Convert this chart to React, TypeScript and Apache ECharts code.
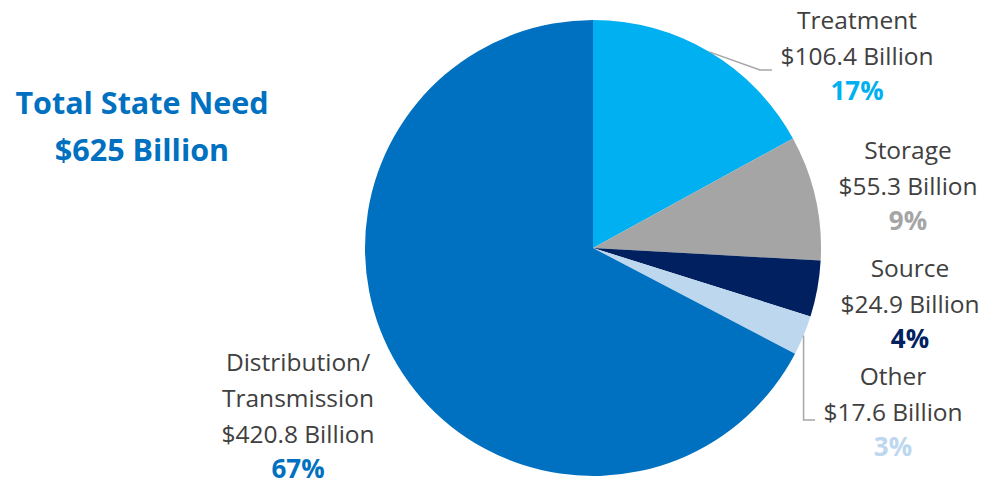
import React, { useEffect, useRef } from "react";
import * as echarts from "echarts";

// Need by category, in billions of dollars (clockwise from 12 o'clock)
const categories = ["Treatment", "Storage", "Source", "Other", "Distribution/\nTransmission"];
const valuesBillion = [106.4, 55.3, 24.9, 17.6, 420.8];
const sliceColors = ["#00B0F0", "#A5A5A5", "#002060", "#BDD7EE", "#0070C0"];
const titleLines = ["Total State Need", "$625 Billion"];

// Label anchors (top-centre of each label block)
const labelAnchors = [
  [857, 1],
  [908, 131],
  [910, 249],
  [893, 357],
  [298, 343],
];

const CENTER: [number, number] = [593, 248];
const RADIUS = 228;
const FONT = "'Open Sans', Lato, sans-serif";

function edgePoint(index: number): [number, number] {
  const total = valuesBillion.reduce((a, b) => a + b, 0);
  const before = valuesBillion.slice(0, index).reduce((a, b) => a + b, 0);
  const mid = ((before + valuesBillion[index] / 2) / total) * Math.PI * 2;
  return [CENTER[0] + RADIUS * Math.sin(mid), CENTER[1] - RADIUS * Math.cos(mid)];
}

export default function App() {
  const ref = useRef<HTMLDivElement>(null);

  useEffect(() => {
    document.body.style.margin = "0";
    if (!ref.current) return;
    const chart = echarts.init(ref.current, undefined, { renderer: "svg" });

    const rich: Record<string, any> = {
      t: { fontFamily: FONT, fontSize: 24.5, color: "#404040", lineHeight: 36 },
    };
    sliceColors.forEach((c, i) => {
      rich["p" + i] = {
        fontFamily: FONT,
        fontSize: 26,
        fontWeight: "bold",
        color: c,
        lineHeight: 34,
      };
    });

    const pTreat = edgePoint(0);
    const pOther = edgePoint(3);

    chart.setOption({
      animation: false,
      backgroundColor: "#ffffff",
      title: {
        text: titleLines.join("\n"),
        left: 137,
        top: 73,
        textAlign: "center",
        textStyle: {
          fontFamily: FONT,
          fontSize: 30.5,
          fontWeight: "bold",
          color: "#0070C0",
          lineHeight: 47,
        },
      },
      graphic: [
        {
          type: "polyline",
          shape: { points: [pTreat, [760, 70], [772, 70]] },
          style: { stroke: "#A6A6A6", lineWidth: 1.5, fill: "none" },
          z: 10,
        },
        {
          type: "polyline",
          shape: { points: [pOther, [pOther[0], 420], [815, 420]] },
          style: { stroke: "#A6A6A6", lineWidth: 1.5, fill: "none" },
          z: 10,
        },
      ],
      series: [
        {
          type: "pie",
          center: CENTER,
          radius: RADIUS,
          startAngle: 90,
          clockwise: true,
          avoidLabelOverlap: false,
          emphasis: { disabled: true },
          itemStyle: { borderWidth: 0 },
          data: categories.map((name, i) => ({
            name,
            value: valuesBillion[i],
            itemStyle: { color: sliceColors[i] },
          })),
          label: {
            show: true,
            position: "outside",
            formatter: (p: any) =>
              `{t|${p.name}}\n{t|$${p.value.toFixed(1)} Billion}\n{p${p.dataIndex}|${Math.round(
                p.percent
              )}%}`,
            rich,
            align: "center",
          },
          labelLine: { show: false },
          labelLayout: (params: any) => {
            const [x, y] = labelAnchors[params.dataIndex];
            return { x, y, align: "center", verticalAlign: "top" };
          },
        },
      ],
    });

    return () => chart.dispose();
  }, []);

  return <div ref={ref} style={{ width: 987, height: 485 }} />;
}
